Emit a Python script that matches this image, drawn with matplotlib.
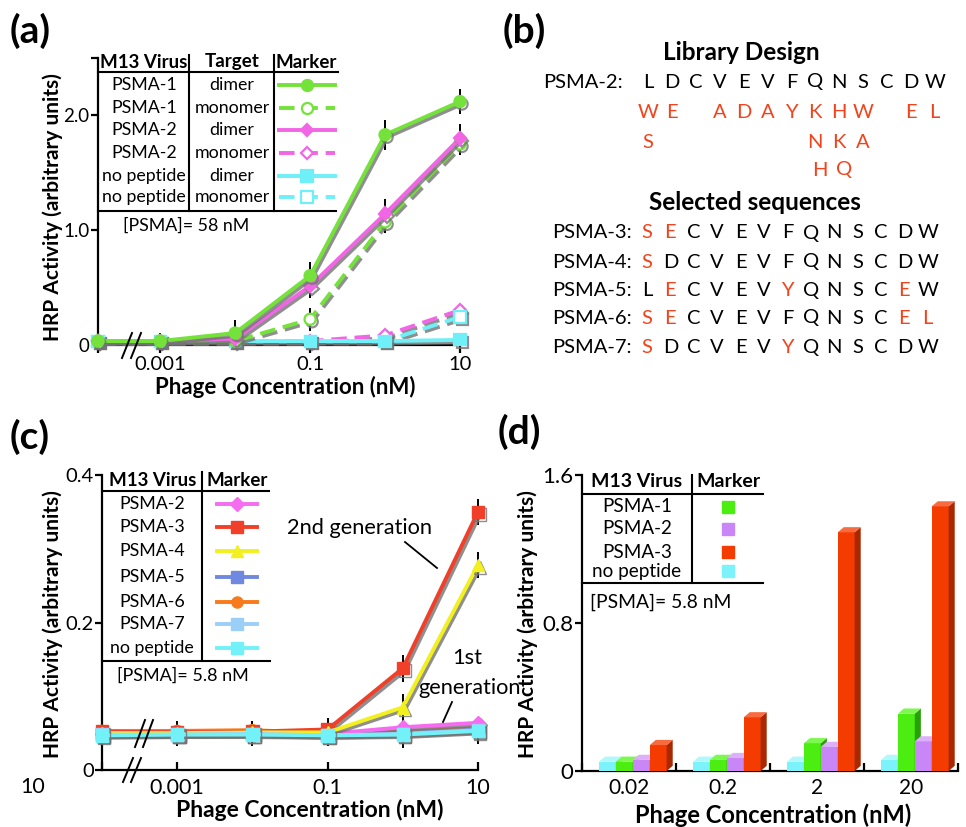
import matplotlib
matplotlib.use("Agg")
import matplotlib.pyplot as plt
import matplotlib.patheffects as pe
from matplotlib.lines import Line2D
from matplotlib.patches import Polygon
from matplotlib.ticker import NullLocator

plt.rcParams['font.family'] = ['Lato', 'DejaVu Sans']

W, H = 966, 827

# ---------------- data ----------------
# (a) phage concentration (nM), 0 = no phage (drawn left of the axis break)
conc_a = [0, 0.001, 0.01, 0.1, 1, 10]
psma1_dimer = [0.03, 0.03, 0.10, 0.60, 1.83, 2.12]
psma1_monomer = [0.03, 0.03, 0.03, 0.22, 1.07, 1.75]
psma2_dimer = [0.03, 0.03, 0.05, 0.51, 1.14, 1.80]
psma2_monomer = [0.03, 0.03, 0.03, 0.03, 0.08, 0.30]
nopep_dimer = [0.03, 0.03, 0.03, 0.03, 0.03, 0.04]
nopep_monomer = [0.03, 0.03, 0.03, 0.03, 0.03, 0.24]
err_psma1_dimer = [0.07, 0.07, 0.11, 0.12, 0.13, 0.11]
err_psma1_monomer = [0.05, 0.05, 0.05, 0.10, 0.10, 0.10]
err_psma2_dimer = [0.05, 0.05, 0.07, 0.10, 0.13, 0.12]

# (b) sequences
parent = "LDCVEVFQNSCDW"
library_rows = ["WE ADAYKHW EL",
                "S      NKA   ",
                "       HQ    "]
selected_names = ["PSMA-3", "PSMA-4", "PSMA-5", "PSMA-6", "PSMA-7"]
selected_seqs = ["SECVEVFQNSCDW",
                 "SDCVEVFQNSCDW",
                 "LECVEVYQNSCEW",
                 "SECVEVFQNSCEL",
                 "SDCVEVYQNSCDW"]

# (c)
conc_c = [0, 0.001, 0.01, 0.1, 1, 10]
c_psma2 = [0.049, 0.050, 0.050, 0.049, 0.058, 0.064]
c_psma3 = [0.052, 0.051, 0.052, 0.055, 0.138, 0.350]
c_psma4 = [0.050, 0.050, 0.051, 0.051, 0.085, 0.278]
c_psma5 = [0.048, 0.049, 0.049, 0.048, 0.050, 0.055]
c_psma6 = [0.053, 0.053, 0.054, 0.050, 0.052, 0.057]
c_psma7 = [0.048, 0.048, 0.049, 0.047, 0.049, 0.054]
c_nopep = [0.047, 0.048, 0.048, 0.047, 0.048, 0.053]
c_err = [0.015, 0.015, 0.015, 0.015, 0.018, 0.018]

# (d)
conc_d = ["0.02", "0.2", "2", "20"]
d_nopep = [0.05, 0.05, 0.05, 0.06]
d_psma1 = [0.05, 0.06, 0.15, 0.31]
d_psma2 = [0.06, 0.07, 0.13, 0.16]
d_psma3 = [0.14, 0.29, 1.29, 1.43]

RED = '#f2441c'

fig = plt.figure(figsize=(W / 100, H / 100), dpi=100)


def fx(x):
    return x / W


def fy(y):
    return 1 - y / H


def ftext(x, y, s, **kw):
    fig.text(fx(x), fy(y), s, **kw)


def fline(xs, ys, **kw):
    fig.add_artist(Line2D([fx(v) for v in xs], [fy(v) for v in ys],
                          transform=fig.transFigure, **kw))


def rect(x0, y0, x1, y1):
    return [x0 / W, 1 - y1 / H, (x1 - x0) / W, (y1 - y0) / H]


shadow = [pe.SimpleLineShadow(offset=(1.5, -1.8), shadow_color='0.45', alpha=0.8), pe.Normal()]


def style_axes(ax):
    for s in ['top', 'right']:
        ax.spines[s].set_visible(False)
    for s in ['left', 'bottom']:
        ax.spines[s].set_linewidth(1.6)
    ax.set_facecolor('none')


def place_labels(ax, box, xlab, ylab):
    # box = (x0, y0, x1, y1) in pixels; xlab / ylab = label centres in pixels
    x0, y0, x1, y1 = box
    ax.xaxis.label.set_va('center')
    ax.yaxis.label.set_va('center')
    ax.xaxis.set_label_coords((xlab[0] - x0) / (x1 - x0), (y1 - xlab[1]) / (y1 - y0))
    ax.yaxis.set_label_coords((ylab[0] - x0) / (x1 - x0), (y1 - ylab[1]) / (y1 - y0))


# ---------------- (a) ----------------
ZERO_A = 10 ** -3.83
box_a = (98, 58, 460, 344.5)
ax = fig.add_axes(rect(*box_a))
style_axes(ax)
ax.set_xscale('log')
xa = [ZERO_A if c == 0 else c for c in conc_a]
for y, e in [(psma1_dimer, err_psma1_dimer), (psma1_monomer, err_psma1_monomer),
             (psma2_dimer, err_psma2_dimer)]:
    ax.errorbar(xa, y, yerr=e, fmt='none', ecolor='black', elinewidth=1.4, zorder=1, clip_on=False)

series_a = [
    (psma2_monomer, '#f266e6', '--', 'D', 'white'),
    (nopep_monomer, '#6ff0f8', '--', 's', 'white'),
    (nopep_dimer, '#6ff0f8', '-', 's', None),
    (psma1_monomer, '#74e23a', '--', 'o', 'white'),
    (psma2_dimer, '#f266e6', '-', 'D', None),
    (psma1_dimer, '#74e23a', '-', 'o', None),
]
for y, col, ls, mk, mfc in series_a:
    ax.plot(xa, y, color=col, ls=ls, lw=2.8, marker=mk, ms=8 if mk != 'D' else 6.5,
            mfc=mfc if mfc else col, mec=col, mew=1.6, dashes=(4, 2) if ls == '--' else (None, None),
            path_effects=shadow, clip_on=False, zorder=3)
ax.set_xlim(ZERO_A, 10)
ax.set_ylim(0, 2.5)
ax.set_xticks([ZERO_A, 0.001, 0.1, 10])
ax.set_xticklabels(['', '0.001', '0.1', '10'])
ax.xaxis.set_minor_locator(NullLocator())
ax.set_yticks([0, 1.0, 2.0, 2.5])
ax.set_yticklabels(['0', '1.0', '2.0', ''])
ax.tick_params(axis='x', labelsize=14.5, width=1.6, length=6, pad=2)
ax.tick_params(axis='y', labelsize=13.5, width=1.6, length=5, pad=1)
ax.set_xlabel('Phage Concentration (nM)', fontsize=16, fontweight='bold')
ax.set_ylabel('HRP Activity (arbitrary units)', fontsize=15, fontweight='bold')
place_labels(ax, box_a, (285, 387), (53, 207))
fline([122, 132], [358, 333], color='black', lw=1.4)
fline([131, 141], [358, 333], color='black', lw=1.4)

ftext(10, 31, '(a)', fontsize=28, fontweight='bold', va='center')

# legend table (a)
fline([98, 338], [72, 72], color='black', lw=1.5)
fline([98, 336], [211, 211], color='black', lw=1.5)
fline([189, 189], [55, 211], color='black', lw=1.5)
fline([274, 274], [55, 211], color='black', lw=1.5)
ftext(144, 62, 'M13 Virus', fontsize=13.5, fontweight='bold', ha='center', va='center')
ftext(232, 62, 'Target', fontsize=13.5, fontweight='bold', ha='center', va='center')
ftext(306, 62, 'Marker', fontsize=13.5, fontweight='bold', ha='center', va='center')
legend_a = [('PSMA-1', 'dimer', psma1_dimer), ('PSMA-1', 'monomer', psma1_monomer),
            ('PSMA-2', 'dimer', psma2_dimer), ('PSMA-2', 'monomer', psma2_monomer),
            ('no peptide', 'dimer', nopep_dimer), ('no peptide', 'monomer', nopep_monomer)]
style_by_series = {id(s[0]): s for s in series_a}
row_y = [85, 108, 130, 153, 176, 197]
for (name, target, ser), yy in zip(legend_a, row_y):
    _, col, ls, mk, mfc = style_by_series[id(ser)]
    ftext(144, yy, name, fontsize=12.8, ha='center', va='center')
    ftext(232, yy, target, fontsize=12.8, ha='center', va='center')
    fline([279, 335], [yy, yy], color=col, lw=2.8, ls=ls,
          dashes=(4, 2) if ls == '--' else (None, None))
    fline([307], [yy], color=col, marker=mk, ms=8 if mk != 'D' else 6.5,
          mfc=mfc if mfc else col, mec=col, mew=1.6, ls='none')
ftext(123, 226, '[PSMA]= 58 nM', fontsize=12.8, va='center')

# ---------------- (b) ----------------
ftext(503, 31, '(b)', fontsize=28, fontweight='bold', va='center')
ftext(741, 53, 'Library Design', fontsize=17.5, fontweight='bold', ha='center', va='center')
ftext(543, 82, 'PSMA-2:', fontsize=14.5, va='center')
step_b = 23.9
for i, ch in enumerate(parent):
    ftext(648 + i * step_b, 82, ch, fontsize=14.5, ha='center', va='center')
for r, (row, yy) in enumerate(zip(library_rows, [113, 142, 170])):
    for i, ch in enumerate(row):
        if ch != ' ':
            off = 5 if r == 2 else 0
            ftext(648 + i * step_b + off, yy, ch, fontsize=14.5, ha='center', va='center', color=RED)
ftext(755, 203, 'Selected sequences', fontsize=17.5, fontweight='bold', ha='center', va='center')
step_s = 23.4
for name, seq, yy in zip(selected_names, selected_seqs, [233, 262, 290, 318, 347]):
    ftext(552, yy, name + ':', fontsize=14.5, va='center')
    for i, ch in enumerate(seq):
        ftext(647 + i * step_s, yy, ch, fontsize=14.5, ha='center', va='center',
              color=RED if ch != parent[i] else 'black')

# ---------------- (c) ----------------
ZERO_C = 1e-4
box_c = (102, 475, 478, 770)
ax = fig.add_axes(rect(*box_c))
style_axes(ax)
ax.set_xscale('log')
xc = [ZERO_C if c == 0 else c for c in conc_c]
for y in [c_psma3, c_psma4, c_nopep]:
    ax.errorbar(xc, y, yerr=c_err, fmt='none', ecolor='black', elinewidth=1.4, zorder=1, clip_on=False)
series_c = [
    ('PSMA-2', c_psma2, '#f56cf0', 'D', 7),
    ('PSMA-3', c_psma3, '#f0402a', 's', 9),
    ('PSMA-4', c_psma4, '#f2f01e', '^', 9),
    ('PSMA-5', c_psma5, '#7088e0', 's', 9),
    ('PSMA-6', c_psma6, '#f87a1a', 'o', 8),
    ('PSMA-7', c_psma7, '#9ccff8', 's', 9),
    ('no peptide', c_nopep, '#72f2f8', 's', 9),
]
draw_order = [4, 3, 0, 1, 2, 5, 6]
for k in draw_order:
    name, y, col, mk, ms = series_c[k]
    ax.plot(xc, y, color=col, lw=2.8, marker=mk, ms=ms, mec=col, path_effects=shadow,
            clip_on=False, zorder=3)
ax.set_xlim(ZERO_C, 10)
ax.set_ylim(0, 0.4)
ax.set_xticks([ZERO_C, 0.001, 0.1, 10])
ax.set_xticklabels(['', '0.001', '0.1', '10'])
ax.xaxis.set_minor_locator(NullLocator())
ax.set_yticks([0, 0.2, 0.4])
ax.set_yticklabels(['0', '0.2', '0.4'])
ax.tick_params(axis='y', labelsize=14.5, width=1.6, length=5, pad=1)
ax.tick_params(axis='x', labelsize=15.5, width=1.6, length=6, direction='in', pad=6)
ax.set_xlabel('Phage Concentration (nM)', fontsize=16.5, fontweight='bold')
ax.set_ylabel('HRP Activity (arbitrary units)', fontsize=15, fontweight='bold')
place_labels(ax, box_c, (310, 810), (53, 624))
ftext(33, 787, '10', fontsize=15.5, ha='center', va='center')
fline([135, 145], [747, 720], color='black', lw=1.4)
fline([143, 153], [747, 720], color='black', lw=1.4)
fline([123, 133], [782, 758], color='black', lw=1.4)
fline([131, 141], [782, 758], color='black', lw=1.4)

ftext(10, 437, '(c)', fontsize=28, fontweight='bold', va='center')
ftext(287, 528, '2nd generation', fontsize=15.7, va='center')
fline([405, 437], [542, 568], color='black', lw=1.3)
ftext(467, 658, '1st', fontsize=15.7, ha='center', va='center')
ftext(418, 688, 'generation', fontsize=15.7, va='center')
fline([452, 443], [702, 722], color='black', lw=1.3)

# legend table (c)
fline([103, 269], [491, 491], color='black', lw=1.5)
fline([103, 270], [661, 661], color='black', lw=1.5)
fline([202, 202], [472, 661], color='black', lw=1.5)
ftext(153, 481, 'M13 Virus', fontsize=13.5, fontweight='bold', ha='center', va='center')
ftext(237, 481, 'Marker', fontsize=13.5, fontweight='bold', ha='center', va='center')
for (name, y, col, mk, ms), yy in zip(series_c, [504, 527, 551, 577, 602, 624, 648]):
    ftext(152, yy, name, fontsize=12.8, ha='center', va='center')
    fline([217, 257], [yy, yy], color=col, lw=2.8)
    fline([237], [yy], color=col, marker=mk, ms=ms, mec=col, ls='none')
ftext(117, 676, '[PSMA]= 5.8 nM', fontsize=13, va='center')

# ---------------- (d) ----------------
box_d = (582, 475, 958, 771)
ax = fig.add_axes(rect(*box_d))
style_axes(ax)
bar_w = 0.18
dx, dy = 0.065, 0.028
series_d = [
    ('no peptide', d_nopep, '#7cf2fa', '#4ec6d0', '#b0f8fc'),
    ('PSMA-1', d_psma1, '#4ced10', '#2aa008', '#7cf850'),
    ('PSMA-2', d_psma2, '#c986f6', '#9458c8', '#dcb0fa'),
    ('PSMA-3', d_psma3, '#f43c00', '#a82800', '#f86a40'),
]
for g in range(len(conc_d)):
    for k, (name, vals, front, side, top) in enumerate(series_d):
        xc0 = g - 0.32 + (k + 0.5) * bar_w
        h = vals[g]
        ax.bar(xc0, h, bar_w, color=front, edgecolor='none', zorder=3)
        xr = xc0 + bar_w / 2
        xl = xc0 - bar_w / 2
        ax.add_patch(Polygon([(xr, 0), (xr + dx, dy), (xr + dx, h + dy), (xr, h)],
                             closed=True, color=side, zorder=3, lw=0))
        ax.add_patch(Polygon([(xl, h), (xl + dx, h + dy), (xr + dx, h + dy), (xr, h)],
                             closed=True, color=top, zorder=3, lw=0))
ax.set_xlim(-0.5, len(conc_d) - 0.5)
ax.set_ylim(0, 1.6)
ax.set_xticks(range(len(conc_d)))
ax.set_xticklabels(conc_d)
ax.set_xticks([i - 0.5 for i in range(len(conc_d) + 1)], minor=True)
ax.tick_params(axis='x', which='major', length=0, labelsize=15, pad=5)
ax.tick_params(axis='x', which='minor', length=6, width=1.6, direction='in')
ax.set_yticks([0, 0.8, 1.6])
ax.set_yticklabels(['0', '0.8', '1.6'])
ax.tick_params(axis='y', labelsize=16, width=1.6, length=5, pad=1)
ax.set_xlabel('Phage Concentration (nM)', fontsize=17, fontweight='bold')
ax.set_ylabel('HRP Activity (arbitrary units)', fontsize=15, fontweight='bold')
place_labels(ax, box_d, (773, 815), (528, 624))

ftext(498, 432, '(d)', fontsize=28, fontweight='bold', va='center')

# legend table (d)
fline([582, 763], [494, 494], color='black', lw=1.5)
fline([582, 763], [583, 583], color='black', lw=1.5)
fline([692, 692], [475, 583], color='black', lw=1.5)
ftext(637, 482, 'M13 Virus', fontsize=14, fontweight='bold', ha='center', va='center')
ftext(728, 482, 'Marker', fontsize=14, fontweight='bold', ha='center', va='center')
legend_d = [series_d[1], series_d[2], series_d[3], series_d[0]]
for (name, vals, front, side, top), yy in zip(legend_d, [507, 529, 552, 571]):
    ftext(637, yy, name, fontsize=13.6, ha='center', va='center')
    fline([728], [yy], color=front, marker='s', ms=8, mec=front, ls='none')
ftext(590, 602, '[PSMA]= 5.8 nM', fontsize=13.9, va='center')

fig.savefig('out.png', dpi=100)
